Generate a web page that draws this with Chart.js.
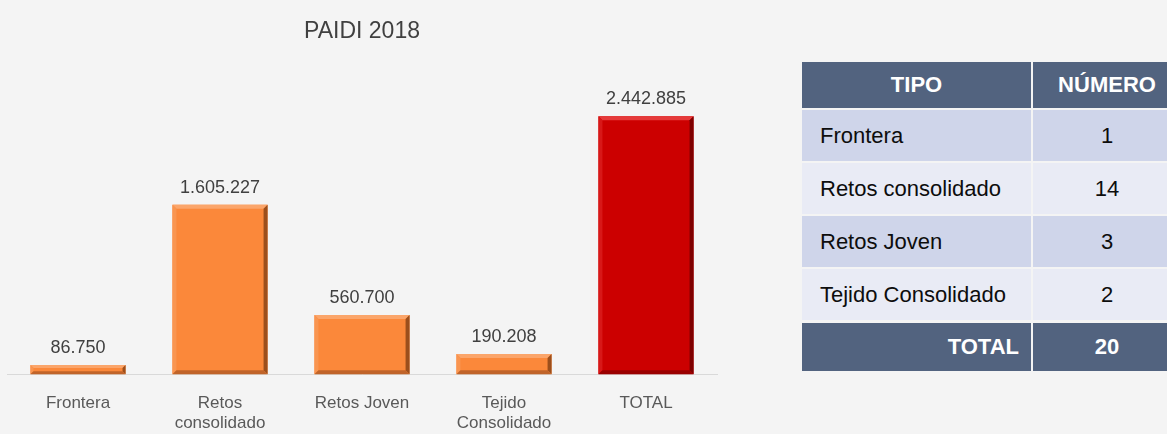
<!DOCTYPE html>
<html>
<head>
<meta charset="utf-8">
<script src="https://cdn.jsdelivr.net/npm/chart.js@4.4.1/dist/chart.umd.min.js"></script>
<style>
  html, body { margin: 0; padding: 0; background: #f4f4f4; overflow: hidden; }
  body { width: 1167px; height: 434px; position: relative; font-family: "Liberation Sans", Arial, sans-serif; }
  #chartBox { position: absolute; left: 0; top: 0; width: 724px; height: 453px; }
  #tabla { position: absolute; left: 800px; top: 62px; width: 381px; border-collapse: collapse; table-layout: fixed; }
  #tabla td, #tabla th { height: 51px; padding: 0 18px; font-size: 22px; color: #0d0d0d; border: 2px solid #f4f4f4; border-top: 0; }
  #tabla th { height: 46px; background: #52637f; color: #fff; font-weight: bold; text-align: center; border-top: 0; }
  #tabla td.num { text-align: center; }
  #tabla tr.par td { background: #cfd5ea; }
  #tabla tr.impar td { background: #e9ebf5; }
  #tabla tr.total td { background: #52637f; color: #fff; font-weight: bold; height: 48px; border-top: 3px solid #f4f4f4; }
  #tabla tr.total td.lbl { text-align: right; padding-right: 12px; }
</style>
</head>
<body>
<div id="chartBox"><canvas id="paidiChart"></canvas></div>
<table id="tabla">
  <colgroup><col style="width:231px"><col style="width:150px"></colgroup>
  <thead><tr><th>TIPO</th><th>NÚMERO</th></tr></thead>
  <tbody id="tablaBody"></tbody>
</table>
<script>
// datos del grafico
let categorias = [['Frontera'], ['Retos', 'consolidado'], ['Retos Joven'], ['Tejido', 'Consolidado'], ['TOTAL']];
let importes = [86750, 1605227, 560700, 190208, 2442885];

// datos de la tabla
let tipos = ['Frontera', 'Retos consolidado', 'Retos Joven', 'Tejido Consolidado'];
let numeros = [1, 14, 3, 2];
let numeroTotal = 20;

const FONT = '"Liberation Sans", Arial, sans-serif';

function formatoMiles(n) {
    return String(n).replace(/\B(?=(\d{3})+(?!\d))/g, '.');
}

// rellenar tabla
let tablaBody = document.getElementById('tablaBody');
tipos.forEach((t, i) => {
    let tr = document.createElement('tr');
    tr.className = i % 2 === 0 ? 'par' : 'impar';
    tr.innerHTML = '<td>' + t + '</td><td class="num">' + numeros[i] + '</td>';
    tablaBody.appendChild(tr);
});
let trTotal = document.createElement('tr');
trTotal.className = 'total';
trTotal.innerHTML = '<td class="lbl">TOTAL</td><td class="num">' + numeroTotal + '</td>';
tablaBody.appendChild(trTotal);

// bisel de las barras (aspecto 3D)
const biselPlugin = {
    id: 'bisel',
    afterDatasetsDraw(chart) {
        const ctx = chart.ctx;
        const meta = chart.getDatasetMeta(0);
        meta.data.forEach((bar, i) => {
            const esTotal = i === importes.length - 1;
            const l = bar.x - bar.width / 2, r = bar.x + bar.width / 2;
            const t = bar.y, b = bar.base;
            const h = b - t;
            const e = Math.min(4, h / 3);
            ctx.save();
            // arriba claro
            ctx.fillStyle = esTotal ? '#e63a3a' : '#fba56a';
            ctx.beginPath();
            ctx.moveTo(l, t); ctx.lineTo(r, t); ctx.lineTo(r - e, t + e); ctx.lineTo(l + e, t + e); ctx.closePath(); ctx.fill();
            // izquierda
            ctx.fillStyle = esTotal ? '#d81818' : '#f99550';
            ctx.beginPath();
            ctx.moveTo(l, t); ctx.lineTo(l + e, t + e); ctx.lineTo(l + e, b - e); ctx.lineTo(l, b); ctx.closePath(); ctx.fill();
            // derecha oscuro
            ctx.fillStyle = esTotal ? '#7e0000' : '#9c4f1c';
            ctx.beginPath();
            ctx.moveTo(r, t); ctx.lineTo(r, b); ctx.lineTo(r - e, b - e); ctx.lineTo(r - e, t + e); ctx.closePath(); ctx.fill();
            // abajo
            ctx.fillStyle = esTotal ? '#9a0000' : '#c0642a';
            ctx.beginPath();
            ctx.moveTo(l, b); ctx.lineTo(r, b); ctx.lineTo(r - e, b - e); ctx.lineTo(l + e, b - e); ctx.closePath(); ctx.fill();
            ctx.restore();
        });
    }
};

// etiquetas de valor encima de las barras
const etiquetasPlugin = {
    id: 'etiquetas',
    afterDatasetsDraw(chart) {
        const ctx = chart.ctx;
        const meta = chart.getDatasetMeta(0);
        ctx.save();
        ctx.font = '18px ' + FONT;
        ctx.fillStyle = '#404040';
        ctx.textAlign = 'center';
        ctx.textBaseline = 'bottom';
        meta.data.forEach((bar, i) => {
            ctx.fillText(formatoMiles(importes[i]), bar.x, bar.y - 8);
        });
        ctx.restore();
    }
};

let ctx = document.getElementById('paidiChart').getContext('2d');
let paidiChart = new Chart(ctx, {
    type: 'bar',
    data: {
        labels: categorias,
        datasets: [{
            data: importes,
            backgroundColor: importes.map((v, i) => i === importes.length - 1 ? '#cc0000' : '#fb883a'),
            borderWidth: 0,
            categoryPercentage: 1,
            barPercentage: 0.67
        }]
    },
    options: {
        responsive: true,
        maintainAspectRatio: false,
        animation: false,
        layout: { padding: { left: 7, right: 7, top: 0, bottom: 0 } },
        plugins: {
            legend: { display: false },
            tooltip: { enabled: false },
            title: {
                display: true,
                text: 'PAIDI 2018',
                color: '#404040',
                font: { family: FONT, size: 23, weight: 'normal' },
                padding: { top: 18, bottom: 15 }
            }
        },
        scales: {
            x: {
                grid: { display: false, drawTicks: false },
                border: { display: true, color: '#d9d9d9', width: 1 },
                ticks: {
                    color: '#595959',
                    font: { family: FONT, size: 17 },
                    padding: 19,
                    maxRotation: 0,
                    autoSkip: false
                }
            },
            y: {
                display: false,
                min: 0,
                max: 2970000
            }
        }
    },
    plugins: [biselPlugin, etiquetasPlugin]
});
</script>
</body>
</html>
